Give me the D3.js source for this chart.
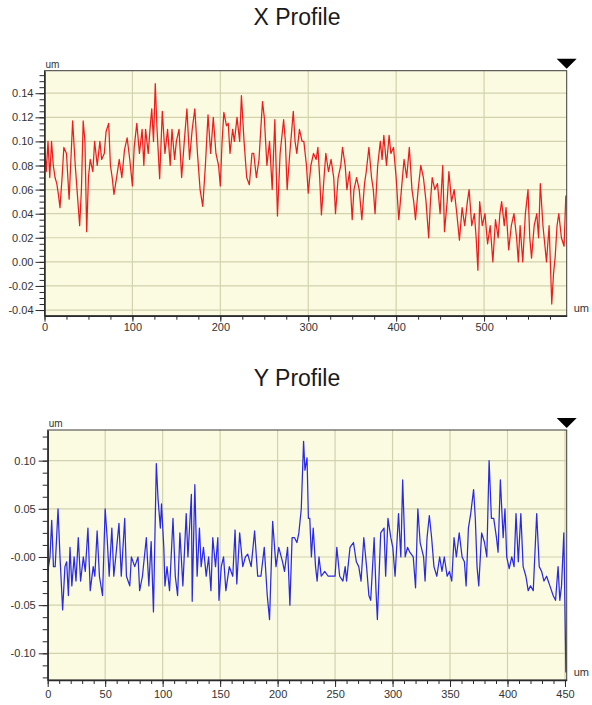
<!DOCTYPE html>
<html><head><meta charset="utf-8">
<script src="https://d3js.org/d3.v7.min.js"></script>
<style>
html,body{margin:0;padding:0;background:#fff;}
svg{display:block;font-family:"Liberation Sans",Arial,sans-serif;}
</style></head>
<body>
<svg id="c" width="592" height="705"></svg>
<script>
// ---------- X profile data (distance um, height um) ----------
const xProfileDist = [0,2,4,6,8,10,12,14,16,17.6,20,22,25,28,32,35,37,40,42,44,46,48,50,52,55,57,60,63,65,68,70,73,75,77,79,82,85,88,91,94,97,100,102,105,108,111,113,115,118,120,122,124,126,128,131,134,137,140,143,145,148,150,153,156,159,162,165,168,171,174,177,180,183,186,189,192,195,198,200,202,204,207,209,211,214,216,219,222,224,227,230,233,236,238,241,244,246,248,250,253,256,259,262,265,268,272,274,276,279,283,285,287,290,293,295,298,300,303,306,309,311,313,315,318,320,323,326,329,331,334,337,339,342,344,347,350,352,355,358,361,364,366,369,372,374,376,379,382,384,386,389,392,394,397,400,403,406,409,412,415,418,420,422,425,428,431,434,437,439,441,444,447,450,453,455,458,460,463,466,469,472,475,478,481,483,486,489,491,493,495,498,501,504,507,510,513,516,518,520,523,525,528,531,534,537,539,541,544,547,550,552,554,557,560,562,564,567,569,571,574,577,579,581,583,585,588,591,593];
const xProfileHeight = [0.095,0.075,0.10,0.07,0.10,0.08,0.07,0.065,0.055,0.045,0.07,0.095,0.09,0.052,0.117,0.08,0.06,0.03,0.06,0.117,0.10,0.025,0.07,0.085,0.075,0.10,0.08,0.10,0.085,0.09,0.108,0.115,0.08,0.07,0.056,0.07,0.085,0.07,0.093,0.103,0.085,0.063,0.095,0.115,0.09,0.11,0.08,0.11,0.09,0.11,0.127,0.10,0.148,0.11,0.069,0.125,0.09,0.11,0.08,0.11,0.085,0.10,0.11,0.07,0.10,0.127,0.085,0.11,0.127,0.09,0.06,0.046,0.08,0.122,0.09,0.12,0.09,0.08,0.063,0.10,0.124,0.113,0.115,0.09,0.11,0.10,0.12,0.10,0.138,0.10,0.07,0.064,0.09,0.09,0.07,0.085,0.11,0.133,0.12,0.08,0.10,0.06,0.118,0.038,0.09,0.118,0.10,0.06,0.09,0.125,0.10,0.09,0.11,0.10,0.10,0.08,0.057,0.08,0.09,0.085,0.095,0.07,0.039,0.07,0.09,0.075,0.085,0.07,0.04,0.07,0.08,0.095,0.08,0.06,0.075,0.035,0.06,0.07,0.06,0.035,0.065,0.075,0.095,0.07,0.06,0.04,0.08,0.10,0.085,0.105,0.08,0.105,0.09,0.095,0.07,0.035,0.06,0.085,0.07,0.095,0.06,0.05,0.035,0.06,0.08,0.07,0.05,0.02,0.05,0.07,0.06,0.065,0.04,0.08,0.025,0.05,0.075,0.05,0.06,0.04,0.018,0.045,0.03,0.05,0.06,0.03,0.04,0.02,-0.007,0.05,0.03,0.04,0.015,0.03,0.0,0.035,0.02,0.04,0.05,0.03,0.045,0.01,0.03,0.04,0.02,0.0,0.03,0.0,0.04,0.06,0.02,0.003,0.03,0.04,0.02,0.065,0.03,0.015,0.0,0.03,-0.035,-0.01,0.005,0.03,0.04,0.02,0.013,0.055];
const xTickValues = [0,100,200,300,400,500];
const xTickLabels = ["0","100","200","300","400","500"];
const xYTickValues = [-0.04,-0.02,0,0.02,0.04,0.06,0.08,0.10,0.12,0.14];
const xYTickLabels = ["-0.04","-0.02","0.00","0.02","0.04","0.06","0.08","0.10","0.12","0.14"];

// ---------- Y profile data ----------
const yProfileDist = [0,2,3.5,5,6.5,9,10.7,13,15,16.5,18,19.4,21,23,24.6,26.6,28.6,31,32.7,35,37,39.6,41,43,45,47.7,50,51.7,53.5,55.8,57.5,59.2,62,64,67,68.5,71.4,72.8,75.7,78.6,80,82.4,85.8,88,90,92,94.5,96,98,99,101,102,103.8,106,109,111,113,115,117.6,120.5,122,125,125.7,128,130,132,133.5,135.5,137.9,140,142,143.6,146,148,149,151,153,155,158,161,163,164.5,167,169.7,172,174,177,180,182.7,185.5,188.4,191,193,195.7,198.6,201,204.3,206,208.7,210.7,212.6,214.7,216.8,218.5,220.6,222.6,223.8,225.6,226.8,228,229.4,231,233,234.4,236,238,241,244,247,250,251.5,254,256.8,258.8,260,263,266,268.5,270.6,272.6,275,277.4,279.4,281,284,285.6,286.8,289.7,292.6,294,296,298.5,300.2,302.2,305.2,307.2,308.8,311,313,315,318,320,322,324,327,328.3,330,332,334,336,338.5,341,343,345,347.5,349.5,351.5,353.5,355.5,358,360.5,362.5,364,366,368,370.5,372,373.5,375,377.5,380,382,384,386,388,390.4,391.8,393.8,396.2,397.8,399.3,401.5,403.7,405.7,407.4,409.4,411.6,413.6,416,418,420,422.4,425.4,427.6,429.7,431.7,434,436.9,439.7,441.8,444,445.5,447,449,450.8];
const yProfileHeight = [-0.015,0,0.038,-0.01,-0.01,0.05,0,-0.055,-0.01,-0.005,-0.04,0.01,-0.03,0,-0.025,0.02,-0.025,0,-0.015,0.03,-0.035,-0.01,-0.02,0.027,-0.02,-0.04,0.05,0.02,-0.02,0.03,-0.02,0,0.035,-0.02,0.04,-0.02,-0.03,0,-0.01,0,-0.035,-0.02,0.02,-0.03,0.016,-0.057,0.097,0.06,0.03,0.055,0.01,-0.03,-0.01,-0.035,0.04,-0.02,-0.04,0.025,-0.03,0.045,0,0.065,-0.046,0.075,-0.02,0.03,-0.01,0.01,-0.02,0,-0.035,0.02,-0.01,0.02,-0.045,-0.01,0,-0.035,-0.01,-0.02,0.028,-0.028,0.025,-0.01,0,0.003,-0.01,0.027,-0.02,-0.02,0.01,-0.04,-0.065,0.037,-0.01,0.01,-0.005,-0.015,0.01,-0.05,0.02,0.02,0.015,0.025,0.05,0.12,0.09,0.103,0.04,0.04,0,0.03,-0.01,-0.025,0,-0.02,-0.015,-0.02,-0.02,-0.02,0.01,-0.02,-0.025,-0.01,-0.025,0.01,0.015,-0.005,-0.01,-0.025,0.02,-0.01,-0.04,-0.045,0.02,-0.035,-0.065,0.025,0.03,-0.02,0.04,0.02,0.01,-0.02,0.045,0,0.08,0,0.01,0.005,0,-0.032,0.05,0.015,0,-0.025,0.02,0.043,0.02,-0.01,-0.02,0,-0.015,0,-0.02,-0.015,-0.025,0.02,0,0.025,0,-0.005,-0.03,0.03,0.045,0.07,0.04,-0.01,-0.03,0.025,0.015,0,0.1,0.04,0.04,0.02,0.005,0.08,0.02,0.05,0,-0.012,0,-0.01,0.045,-0.005,0.045,-0.01,-0.02,-0.035,-0.03,-0.035,0.045,-0.01,-0.015,-0.025,-0.02,-0.03,-0.04,-0.045,-0.01,-0.045,-0.03,0.025,-0.12];
const yTickValues = [0,50,100,150,200,250,300,350,400,450];
const yTickLabels = ["0","50","100","150","200","250","300","350","400","450"];
const yYTickValues = [-0.10,-0.05,0,0.05,0.10];
const yYTickLabels = ["-0.10","-0.05","-0.00","0.05","0.10"];

const svg = d3.select("#c");

function drawChart(cfg) {
  const g = svg.append("g");
  const x = d3.scaleLinear().domain(cfg.xDomain).range([cfg.left, cfg.right]);
  const y = d3.scaleLinear().domain(cfg.yDomain).range([cfg.bottom, cfg.top]);

  g.append("text").attr("x", 297).attr("y", cfg.titleY).attr("text-anchor", "middle")
    .attr("font-size", 23).attr("fill", "#1a1a1a").text(cfg.title);

  g.append("rect").attr("x", cfg.left).attr("y", cfg.top)
    .attr("width", cfg.right - cfg.left).attr("height", cfg.bottom - cfg.top)
    .attr("fill", "#fbfbe2");

  // grid
  g.append("g").selectAll("line").data(cfg.xTicks.filter(v => v > cfg.xDomain[0])).join("line")
    .attr("x1", d => x(d)).attr("x2", d => x(d)).attr("y1", cfg.top).attr("y2", cfg.bottom)
    .attr("stroke", "#d2d2ae").attr("stroke-width", 1.2);
  g.append("g").selectAll("line").data(cfg.yTicks).join("line")
    .attr("x1", cfg.left).attr("x2", cfg.right).attr("y1", d => y(d)).attr("y2", d => y(d))
    .attr("stroke", "#d2d2ae").attr("stroke-width", 1.2);

  // data line
  const pts = cfg.dist.map((d, i) => [d, cfg.height[i]]);
  g.append("path").datum(pts)
    .attr("d", d3.line().x(d => x(d[0])).y(d => y(d[1])))
    .attr("fill", "none").attr("stroke", cfg.color).attr("stroke-width", 1.25)
    .attr("stroke-linejoin", "round");

  // frame
  g.append("rect").attr("x", cfg.left).attr("y", cfg.top)
    .attr("width", cfg.right - cfg.left).attr("height", cfg.bottom - cfg.top)
    .attr("fill", "none").attr("stroke", "#3a3a3a").attr("stroke-width", 1);

  // minor ticks
  const yMinor = d3.range(Math.ceil(cfg.yDomain[0] / cfg.yMinorStep), Math.floor(cfg.yDomain[1] / cfg.yMinorStep) + 1)
    .map(k => +(k * cfg.yMinorStep).toFixed(5));
  const xMinor = d3.range(0, cfg.xDomain[1] + 0.001, cfg.xMinorStep);
  g.append("g").attr("transform", `translate(${cfg.left},0)`)
    .call(d3.axisLeft(y).tickValues(yMinor).tickFormat("").tickSize(5).tickSizeOuter(0))
    .call(a => a.select(".domain").remove())
    .selectAll("line").attr("stroke", "#2a2a2a");
  g.append("g").attr("transform", `translate(0,${cfg.bottom})`)
    .call(d3.axisBottom(x).tickValues(xMinor).tickFormat("").tickSize(cfg.xMinorLen).tickSizeOuter(0))
    .call(a => a.select(".domain").remove())
    .selectAll("line").attr("stroke", "#2a2a2a");

  // major axes
  const ya = g.append("g").attr("transform", `translate(${cfg.left},0)`)
    .call(d3.axisLeft(y).tickValues(cfg.yTicks).tickFormat((d, i) => cfg.yLabels[i]).tickSize(9).tickPadding(cfg.yPad).tickSizeOuter(0));
  ya.select(".domain").attr("stroke", "#2a2a2a").attr("stroke-width", 1.5);
  ya.selectAll("line").attr("stroke", "#2a2a2a");
  ya.selectAll("text").attr("font-size", 11).attr("fill", "#333").attr("font-family", "Liberation Sans, Arial, sans-serif");

  const xa = g.append("g").attr("transform", `translate(0,${cfg.bottom})`)
    .call(d3.axisBottom(x).tickValues(cfg.xTicks).tickFormat((d, i) => cfg.xLabels[i]).tickSize(cfg.xMajorLen).tickPadding(cfg.xPad).tickSizeOuter(0));
  xa.select(".domain").attr("stroke", "#2a2a2a").attr("stroke-width", 1.5);
  xa.selectAll("line").attr("stroke", "#2a2a2a");
  xa.selectAll("text").attr("font-size", 11).attr("fill", "#333").attr("font-family", "Liberation Sans, Arial, sans-serif");

  // unit labels
  g.append("text").attr("x", cfg.left + 1).attr("y", cfg.top - 3).attr("font-size", 10).attr("fill", "#333").text("um");
  g.append("text").attr("x", cfg.right + 7).attr("y", cfg.bottom - 4).attr("font-size", 11).attr("fill", "#333").text("um");

  // marker triangle
  const tx = cfg.right, ty = cfg.top - 12;
  g.append("path").attr("d", `M${tx - 10},${ty} L${tx + 10},${ty} L${tx},${ty + 10} Z`).attr("fill", "#000");
}

drawChart({
  title: "X Profile", titleY: 25,
  left: 44.5, right: 566.7, top: 70.7, bottom: 315.7,
  xDomain: [0, 594], yDomain: [-0.0447, 0.1587],
  dist: xProfileDist, height: xProfileHeight, color: "#f01c1c",
  xTicks: xTickValues, xLabels: xTickLabels, yTicks: xYTickValues, yLabels: xYTickLabels,
  yMinorStep: 0.005, xMinorStep: 25, xMinorLen: 4, xMajorLen: 6, xPad: 2, yPad: 2
});

drawChart({
  title: "Y Profile", titleY: 386,
  left: 47.7, right: 566.7, top: 430, bottom: 680,
  xDomain: [0, 451.5], yDomain: [-0.1277, 0.1318],
  dist: yProfileDist, height: yProfileHeight, color: "#2a2ae6",
  xTicks: yTickValues, xLabels: yTickLabels, yTicks: yYTickValues, yLabels: yYTickLabels,
  yMinorStep: 0.0125, xMinorStep: 10, xMinorLen: 4, xMajorLen: 7, xPad: 3, yPad: 3
});
</script>
</body></html>
